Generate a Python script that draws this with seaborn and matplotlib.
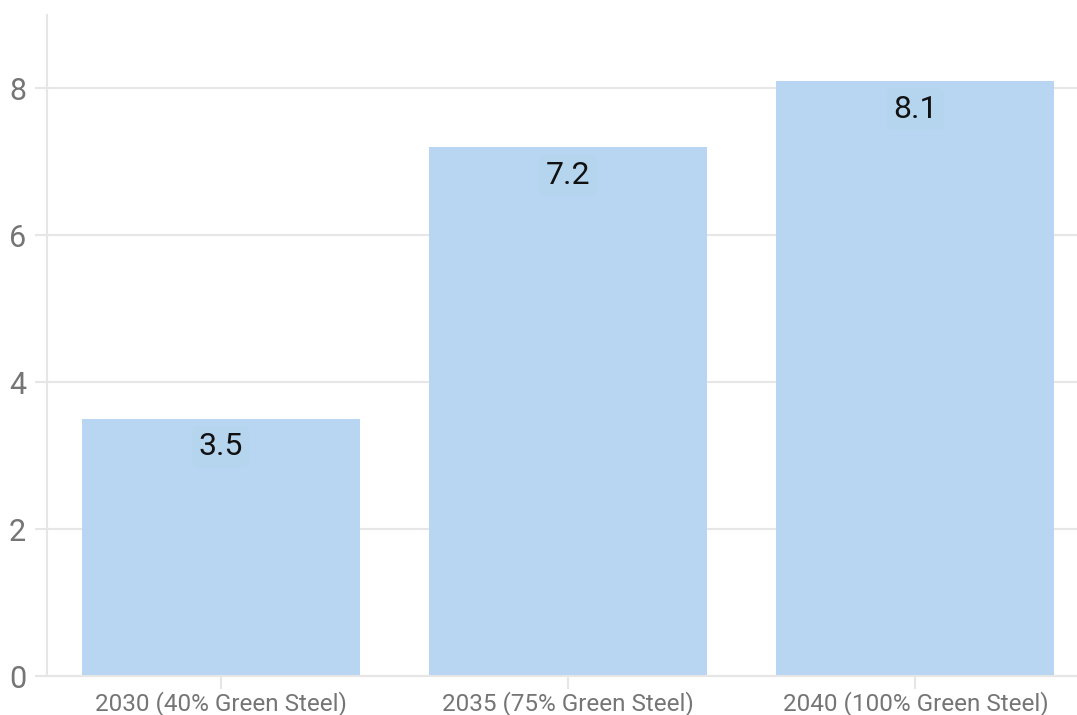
import matplotlib
matplotlib.use("Agg")
import matplotlib.pyplot as plt
import seaborn as sns
import pandas as pd

# datos del grafico
categorias = ["2030 (40% Green Steel)", "2035 (75% Green Steel)", "2040 (100% Green Steel)"]
valores = [3.5, 7.2, 8.1]
etiquetas = ["3.5", "7.2", "8.1"]
y_ticks = [0, 2, 4, 6, 8]

df = pd.DataFrame({"cat": categorias, "val": valores})

sns.set_theme(style="white")
plt.rcParams["font.family"] = ["Roboto", "DejaVu Sans"]

fig = plt.figure(figsize=(10.77, 7.15), dpi=100)
ax = fig.add_axes([47 / 1077, 39 / 715, 1042 / 1077, 661 / 715])

sns.barplot(data=df, x="cat", y="val", color="#b8d6f2", saturation=1, width=0.8,
            linewidth=0, ax=ax)

ax.set_xlim(-0.5, 2.5)
ax.set_ylim(0, 9)
ax.set_yticks(y_ticks)
ax.set_xlabel("")
ax.set_ylabel("")

# grid
ax.grid(axis="y", color="#e6e6e6", linewidth=1.5)
ax.set_axisbelow(True)
for s in ["top", "right"]:
    ax.spines[s].set_visible(False)
for s in ["left", "bottom"]:
    ax.spines[s].set_color("#e6e6e6")
    ax.spines[s].set_linewidth(1.5)

ax.tick_params(axis="y", labelsize=22, colors="#757575", length=9, width=1.5, color="#e6e6e6", pad=6)
ax.tick_params(axis="x", labelsize=17.5, colors="#757575", length=9, width=1.5, color="#e6e6e6", pad=2)
ax.tick_params(left=True, bottom=True)

# etiquetas de las barras
for i, (v, t) in enumerate(zip(valores, etiquetas)):
    ax.annotate(t, (i, v), xytext=(0, -28), textcoords="offset pixels",
                ha="center", va="center", fontsize=23, color="#111111",
                bbox=dict(boxstyle="round,pad=0.2", facecolor="#b5d5ef", edgecolor="none"))

fig.savefig("out.png", dpi=100)
